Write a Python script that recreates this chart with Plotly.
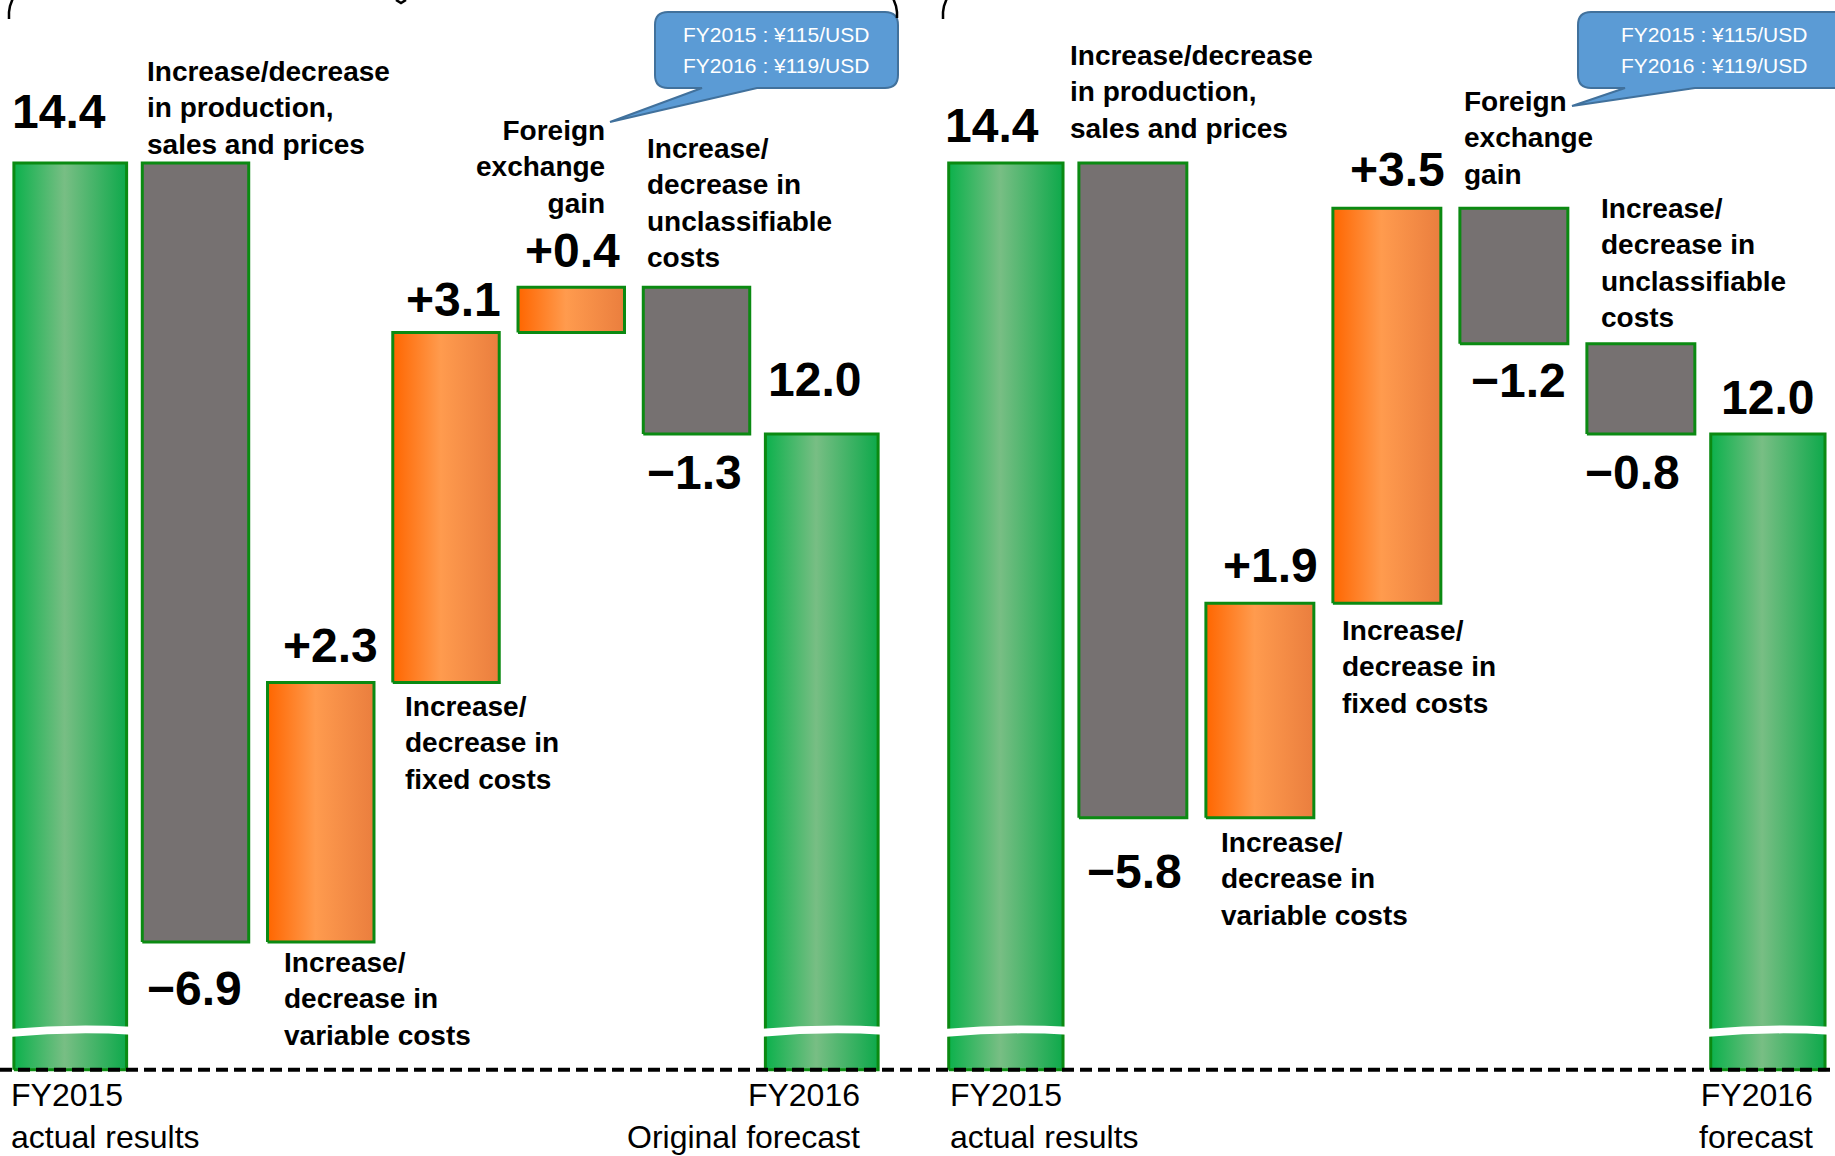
import plotly.graph_objects as go

# ---------------- data ----------------
LEFT_CATEGORIES = ["FY2015 actual results", "Production, sales and prices", "Variable costs",
                   "Fixed costs", "Foreign exchange gain", "Unclassifiable costs",
                   "FY2016 original forecast"]
LEFT_MEASURES = ["absolute", "relative", "relative", "relative", "relative", "relative", "total"]
LEFT_VALUES = [14.4, -6.9, 2.3, 3.1, 0.4, -1.3, 12.0]

RIGHT_CATEGORIES = ["FY2015 actual results", "Production, sales and prices", "Variable costs",
                    "Fixed costs", "Foreign exchange gain", "Unclassifiable costs",
                    "FY2016 forecast"]
RIGHT_MEASURES = ["absolute", "relative", "relative", "relative", "relative", "relative", "total"]
RIGHT_VALUES = [14.4, -5.8, 1.9, 3.5, -1.2, -0.8, 12.0]

FX_RATES = ["FY2015 : ¥115/USD", "FY2016 : ¥119/USD"]

DESC_PROD = "Increase/decrease<br>in production,<br>sales and prices"
DESC_VAR = "Increase/<br>decrease in<br>variable costs"
DESC_FIX = "Increase/<br>decrease in<br>fixed costs"
DESC_FX = "Foreign<br>exchange<br>gain"
DESC_UNC = "Increase/<br>decrease in<br>unclassifiable<br>costs"
LEFT_START = "FY2015<br>actual results"
LEFT_END = "FY2016<br>Original forecast"
RIGHT_START = "FY2015<br>actual results"
RIGHT_END = "FY2016<br>forecast"

# ---------------- style ----------------
W, H = 1835, 1156
FLOOR = 6.37              # axis break floor (dashed line)
Y_RANGE = [5.605, 15.844]
BORDER = "#0b8a12"
GRAY = "#767171"
GREEN_SCALE = [[0, "#0cb14c"], [0.45, "#78be84"], [1, "#0ea94b"]]
ORANGE_SCALE = [[0, "#ff6600"], [0.45, "#ff9b4e"], [1, "#ea7e3e"]]
TOTAL_W = 0.9
STEP_W = 0.85
NUM_FONT = dict(family="Liberation Sans, Arial, sans-serif", size=48, color="black")
DESC_FONT = dict(family="Liberation Sans, Arial, sans-serif", size=28, color="black")
CAT_FONT = dict(family="Liberation Sans, Arial, sans-serif", size=32, color="black")

# per-label nudges (px): (dx, dy)
LEFT_NUDGE = [(-11, 52), (3, 46), (13, 37), (11, 33), (5, 37), (2, 39), (-7, 54)]
RIGHT_NUDGE = [(-14, 38), (6, 54), (15, 38), (15, 39), (9, 37), (-4, 39), (0, 36)]


def px(x):
    return x / W


def py(y):
    return 1 - y / H


def fmt(v, m):
    if m == "relative":
        return ("+" if v > 0 else "\u2212") + f"{abs(v):.1f}"
    return f"{v:.1f}"


fig = go.Figure()
annotations = []
shapes = []


def add_panel(values, measures, xaxis, xref, nudges):
    running = 0.0
    for i, (v, m) in enumerate(zip(values, measures)):
        if m == "absolute":
            lo, hi = FLOOR, v
            running = v
            kind = "total"
        elif m == "total":
            lo, hi = FLOOR, running
            kind = "total"
        else:
            lo, hi = min(running, running + v), max(running, running + v)
            running += v
            kind = "inc" if v > 0 else "dec"
        half = (TOTAL_W if kind == "total" else STEP_W) / 2
        tr = dict(x=[i - half, i + half, i + half, i - half, i - half],
                  y=[lo, lo, hi, hi, lo], mode="lines", fill="toself",
                  line=dict(color=BORDER, width=3), xaxis=xaxis, yaxis="y",
                  hoverinfo="skip", showlegend=False)
        if kind == "dec":
            tr["fillcolor"] = GRAY
        else:
            tr["fillgradient"] = dict(type="horizontal",
                                      colorscale=GREEN_SCALE if kind == "total" else ORANGE_SCALE)
        fig.add_trace(go.Scatter(**tr))

        dx, dy = nudges[i]
        text = "<b>" + fmt(v, m) + "</b>"
        if kind == "total":
            annotations.append(dict(x=i, y=hi, xref=xref, yref="y", text=text, showarrow=False,
                                    xanchor="center", yanchor="middle", xshift=dx, yshift=dy,
                                    font=NUM_FONT))
            # axis-break gap
            y0 = FLOOR + 0.29
            hgt = 0.07
            xa, xb = i - half - 0.04, i + half + 0.04
            xm = i
            shapes.append(dict(type="path", xref=xref, yref="y",
                               path=f"M {xa},{y0} Q {xm},{y0 + 0.05} {xb},{y0 + 0.02} "
                                    f"L {xb},{y0 + 0.02 + hgt} Q {xm},{y0 + 0.05 + hgt} {xa},{y0 + hgt} Z",
                               fillcolor="white", line=dict(width=0), layer="above"))
        elif kind == "inc":
            annotations.append(dict(x=i - half, y=hi, xref=xref, yref="y", text=text, showarrow=False,
                                    xanchor="left", yanchor="middle", xshift=dx, yshift=dy,
                                    font=NUM_FONT))
        else:
            annotations.append(dict(x=i - half, y=lo, xref=xref, yref="y", text=text, showarrow=False,
                                    xanchor="left", yanchor="middle", xshift=dx, yshift=-dy,
                                    font=NUM_FONT))


add_panel(LEFT_VALUES, LEFT_MEASURES, "x", "x", LEFT_NUDGE)
add_panel(RIGHT_VALUES, RIGHT_MEASURES, "x2", "x2", RIGHT_NUDGE)


def desc(text, x, y, xanchor="left", align="left", font=DESC_FONT, bold=True):
    t = "<b>" + text + "</b>" if bold else text
    annotations.append(dict(x=px(x), y=py(y), xref="paper", yref="paper", text=t,
                            showarrow=False, xanchor=xanchor, yanchor="middle", align=align,
                            font=font))


# left panel descriptions
desc(DESC_PROD, 145, 108)
desc(DESC_VAR, 282, 999)
desc(DESC_FIX, 403, 743)
desc(DESC_FX, 607, 167, xanchor="right", align="right")
desc(DESC_UNC, 645, 203)
# right panel descriptions
desc(DESC_PROD, 1068, 92)
desc(DESC_VAR, 1219, 879)
desc(DESC_FIX, 1340, 667)
desc(DESC_FX, 1462, 138)
desc(DESC_UNC, 1599, 263)
# category labels at bottom
desc(LEFT_START, 9, 1116, font=CAT_FONT, bold=False)
desc(LEFT_END, 862, 1116, xanchor="right", align="right", font=CAT_FONT, bold=False)
desc(RIGHT_START, 948, 1116, font=CAT_FONT, bold=False)
desc(RIGHT_END, 1815, 1116, xanchor="right", align="right", font=CAT_FONT, bold=False)


# callouts
def callout(L, R, T, B, r, t0, t1, tip):
    def P(x, y):
        return f"{px(x):.5f},{py(y):.5f}"
    path = (f"M {P(L + r, T)} L {P(R - r, T)} Q {P(R, T)} {P(R, T + r)} "
            f"L {P(R, B - r)} Q {P(R, B)} {P(R - r, B)} L {P(t1, B)} L {P(*tip)} L {P(t0, B)} "
            f"L {P(L + r, B)} Q {P(L, B)} {P(L, B - r)} L {P(L, T + r)} Q {P(L, T)} {P(L + r, T)} Z")
    shapes.append(dict(type="path", xref="paper", yref="paper", path=path,
                       fillcolor="#5b9bd5", line=dict(color="#41719c", width=2), layer="above"))


callout(655, 898, 12, 88, 13, 702, 757, (610, 122))
callout(1578, 1852, 12, 88, 13, 1625, 1695, (1572, 106))
for cx in (776, 1714):
    for j, t in enumerate(FX_RATES):
        annotations.append(dict(x=px(cx), y=py(34 + 32 * j), xref="paper", yref="paper", text=t,
                                showarrow=False, xanchor="center", yanchor="middle",
                                font=dict(family="Liberation Sans, Arial, sans-serif", size=21,
                                          color="white")))

# dashed baseline
shapes.append(dict(type="line", xref="paper", yref="y", x0=0, x1=1, y0=FLOOR, y1=FLOOR,
                   line=dict(color="black", width=4, dash="12px,6px"), layer="above"))


# cut-off braces at the top
def brace(path_pts):
    d = "M " + " L ".join(f"{px(x):.5f},{py(y):.5f}" for x, y in path_pts)
    shapes.append(dict(type="path", xref="paper", yref="paper", path=d,
                       line=dict(color="black", width=2.5)))


brace([(13, -2), (10, 6), (9, 12), (9, 19)])
brace([(893, -2), (896, 6), (897, 12), (897, 18)])
brace([(947, -2), (944, 6), (943, 12), (943, 19)])
brace([(396, 0), (401, 3), (406, 0)])

fig.update_layout(
    width=W, height=H, margin=dict(l=0, r=0, t=0, b=0),
    paper_bgcolor="white", plot_bgcolor="white",
    xaxis=dict(domain=[0, 900 / W], range=[-0.5609, 6.6247], visible=False, anchor="y"),
    xaxis2=dict(domain=[920 / W, 1], range=[-0.6761, 6.5286], visible=False, anchor="y"),
    yaxis=dict(domain=[0, 1], range=Y_RANGE, visible=False),
    annotations=annotations, shapes=shapes, showlegend=False,
)

fig.write_html("out.html")
